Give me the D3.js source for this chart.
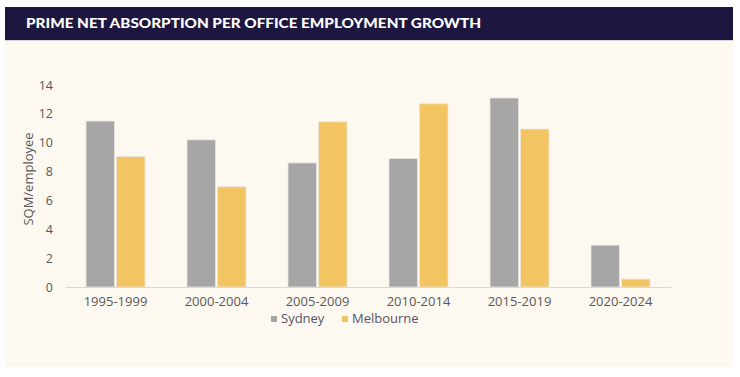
<!DOCTYPE html>
<html>
<head>
<meta charset="utf-8">
<script src="https://cdn.jsdelivr.net/npm/d3@7"></script>
<style>
  body { margin: 0; background: #ffffff; }
  svg { display: block; }
</style>
</head>
<body>
<div id="chart"></div>
<script>
// data
const periods = ["1995-1999", "2000-2004", "2005-2009", "2010-2014", "2015-2019", "2020-2024"];
const seriesNames = ["Sydney", "Melbourne"];
const sydney = [11.5, 10.2, 8.6, 8.9, 13.1, 2.9];
const melbourne = [9.05, 6.95, 11.45, 12.7, 10.95, 0.55];
const yTicks = [0, 2, 4, 6, 8, 10, 12, 14];
const title = "PRIME NET ABSORPTION PER OFFICE EMPLOYMENT GROWTH";

const colors = {Sydney: "#a6a6a6", Melbourne: "#f2c562"};
const textCol = "#595959";

var W = 740, H = 377;

var svg = d3.select("#chart")
    .append("svg")
    .attr("width", W)
    .attr("height", H);

// panel + title band
svg.append("rect")
    .attr("x", 5).attr("y", 7)
    .attr("width", 728).attr("height", 360)
    .style("fill", "#fdf8f0");
svg.append("rect")
    .attr("x", 5).attr("y", 7)
    .attr("width", 728).attr("height", 33)
    .style("fill", "#1d173f");
svg.append("rect")
    .attr("x", 5).attr("y", 40)
    .attr("width", 728).attr("height", 1)
    .style("fill", "#d9d4dc");
svg.append("text")
    .attr("x", 26)
    .attr("y", 28)
    .attr("font-family", "Lato")
    .attr("font-weight", "900")
    .attr("font-size", "14px")
    .attr("textLength", 455)
    .attr("lengthAdjust", "spacingAndGlyphs")
    .style("fill", "#ffffff")
    .text(title);

// scales
const x0 = d3.scaleBand()
    .domain(periods)
    .range([65, 671])
    .paddingInner(0)
    .paddingOuter(0);

const x1 = d3.scaleBand()
    .domain(seriesNames)
    .range([x0.bandwidth()/2 - 29.5, x0.bandwidth()/2 + 29.5])
    .paddingInner(0.06);

const y = d3.scaleLinear()
    .domain([0, 14])
    .range([287, 85]);

// y tick labels (no axis line)
svg.append("g")
    .attr("transform", "translate(53,0)")
    .call(d3.axisLeft(y).tickValues(yTicks).tickSize(0).tickPadding(0))
    .call(g => g.select(".domain").remove())
    .selectAll("text")
    .attr("font-family", "Open Sans")
    .attr("font-size", "12.5px")
    .style("fill", textCol);

// bars
const rows = periods.map((p, i) => ({period: p, values: [
    {key: "Sydney", value: sydney[i]},
    {key: "Melbourne", value: melbourne[i]}
]}));

var groups = svg.selectAll(".grp")
    .data(rows)
    .enter().append("g")
    .attr("class", "grp")
    .attr("transform", d => "translate(" + x0(d.period) + ",0)");

groups.selectAll("rect")
    .data(d => d.values)
    .enter().append("rect")
    .attr("x", d => x1(d.key))
    .attr("y", d => y(d.value))
    .attr("width", x1.bandwidth())
    .attr("height", d => y(0) - y(d.value))
    .style("fill", d => colors[d.key])
    .style("stroke", "#ece8e0")
    .style("stroke-width", 0.8);

// x axis
var xAxis = svg.append("g")
    .attr("transform", "translate(0," + y(0) + ")")
    .call(d3.axisBottom(x0).tickSize(0).tickPadding(10));
xAxis.select(".domain")
    .style("stroke", "#d9d9d9")
    .style("stroke-width", 1.2);
xAxis.selectAll("text")
    .attr("font-family", "Open Sans")
    .attr("font-size", "13px")
    .style("fill", textCol);

// y title
svg.append("text")
    .attr("transform", "translate(33,179) rotate(-90)")
    .attr("text-anchor", "middle")
    .attr("font-family", "Open Sans")
    .attr("font-size", "13px")
    .style("fill", textCol)
    .text("SQM/employee");

// legend
var legendX = [271, 342];
var leg = svg.selectAll(".leg")
    .data(seriesNames)
    .enter().append("g")
    .attr("class", "leg")
    .attr("transform", (d, i) => "translate(" + legendX[i] + ",316)");
leg.append("rect")
    .attr("width", 6)
    .attr("height", 6)
    .style("fill", d => colors[d]);
leg.append("text")
    .attr("x", 10)
    .attr("y", 4)
    .attr("dominant-baseline", "middle")
    .attr("font-family", "Open Sans")
    .attr("font-size", "13px")
    .style("fill", "#58536a")
    .text(d => d);
</script>
</body>
</html>
